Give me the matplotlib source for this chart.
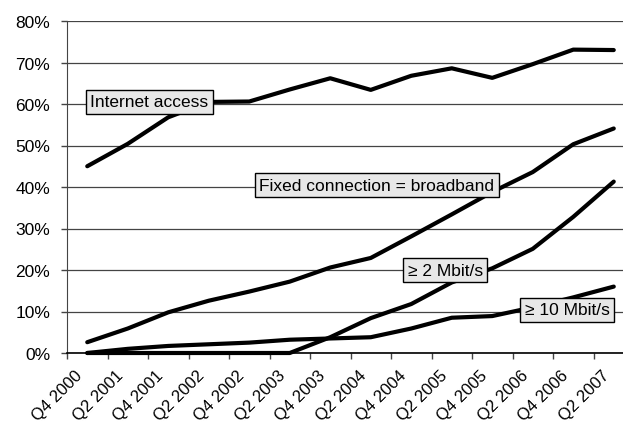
import matplotlib
matplotlib.use("Agg")
import matplotlib.pyplot as plt
from matplotlib.ticker import FuncFormatter
from matplotlib.transforms import ScaledTranslation

# Quarters (every half year)
quarters = ['Q4 2000', 'Q2 2001', 'Q4 2001', 'Q2 2002', 'Q4 2002', 'Q2 2003', 'Q4 2003',
            'Q2 2004', 'Q4 2004', 'Q2 2005', 'Q4 2005', 'Q2 2006', 'Q4 2006', 'Q2 2007']

# Share of households (%)
internet_access = [45.0, 50.4, 56.8, 60.5, 60.6, 63.5, 66.2, 63.4, 66.8, 68.6, 66.3, 69.6, 73.1, 73.0]
broadband = [2.6, 5.9, 9.8, 12.6, 14.8, 17.2, 20.6, 22.9, 28.1, 33.4, 38.8, 43.6, 50.3, 54.1]
mbit2 = [0.0, 0.0, 0.0, 0.0, 0.0, 0.0, 3.8, 8.4, 11.8, 17.0, 20.4, 25.1, 32.8, 41.3]
mbit10 = [0.0, 1.0, 1.7, 2.1, 2.5, 3.2, 3.5, 3.8, 5.9, 8.5, 8.9, 11.0, 13.4, 16.0]

series_labels = ['Internet access', 'Fixed connection = broadband', '\u2265 2 Mbit/s', '\u2265 10 Mbit/s']

plt.rcParams['font.family'] = ['Liberation Sans', 'DejaVu Sans']
FS = 12.5

fig = plt.figure(figsize=(6.23, 4.27), dpi=100)
ax = fig.add_axes([67 / 623, 73 / 427, 567 / 623, 332 / 427])

x = list(range(len(quarters)))
for values in [internet_access, broadband, mbit2, mbit10]:
    ax.plot(x, values, color='black', lw=3.0, solid_capstyle='round', solid_joinstyle='round',
            zorder=3, clip_on=False)

ax.set_xlim(-0.5, len(quarters) - 0.5)
ax.set_ylim(0, 80)
ax.set_yticks(range(0, 81, 10))
ax.yaxis.set_major_formatter(FuncFormatter(lambda v, p: f"{int(v)}%"))
ax.grid(axis='y', color='#444444', lw=0.9, zorder=0)
ax.set_axisbelow(True)

# category boundaries get tick marks, labels sit at the centres
ax.set_xticks([i - 0.5 for i in range(len(quarters) + 1)])
ax.set_xticklabels([])
ax.set_xticks(x, minor=True)
ax.set_xticklabels(quarters, minor=True, rotation=45, ha='right', va='center',
                   rotation_mode='anchor', fontsize=12)
ax.tick_params(axis='x', which='minor', length=0, pad=14)
ax.tick_params(axis='x', which='major', length=4.5, width=1, color='#444444')
ax.tick_params(axis='y', length=4.5, width=1, color='#444444', labelsize=FS, pad=7.5)
shift = ScaledTranslation(-7 / 100, 0, fig.dpi_scale_trans)
for lbl in ax.get_xticklabels(minor=True):
    lbl.set_transform(lbl.get_transform() + shift)

for side in ['top', 'right']:
    ax.spines[side].set_visible(False)
ax.spines['left'].set_color('#444444')
ax.spines['bottom'].set_color('black')
ax.spines['bottom'].set_linewidth(1.2)

box = dict(boxstyle='square,pad=0.25', fc='#e8e8e8', ec='black', lw=1.0)
label_pos = [(1.53, 60.5), (7.15, 40.4), (8.84, 20.0), (11.85, 10.4)]
for text, (lx, ly) in zip(series_labels, label_pos):
    ax.text(lx, ly, text, ha='center', va='center', fontsize=FS, bbox=box, zorder=5)

fig.savefig('out.png', dpi=100)
